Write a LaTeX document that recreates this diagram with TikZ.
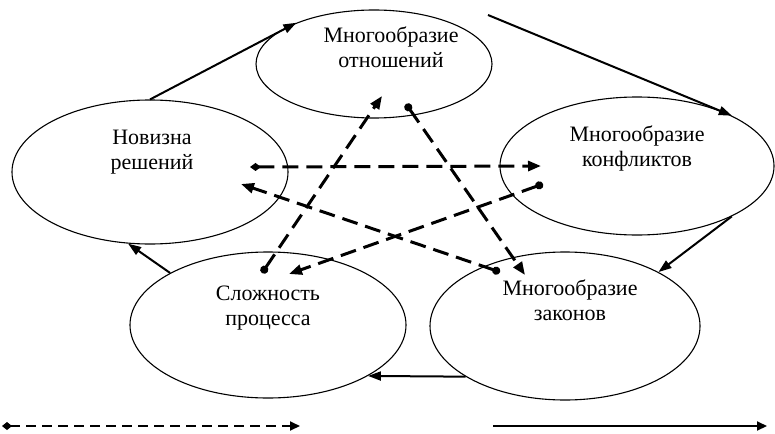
\documentclass[tikz,border=0pt]{standalone}
\usepackage{fontspec}
\setmainfont{Liberation Serif}
\usetikzlibrary{shapes.geometric,arrows.meta}
\begin{document}
\begin{tikzpicture}[x=1pt,y=-1pt,
  oval/.style 2 args={draw,ellipse,line width=1.1pt,minimum width=#1,minimum height=#2,inner sep=0pt},
  lbl/.style={align=center,font=\fontsize{22}{25}\selectfont,inner sep=0pt},
  solidarr/.style={line width=2pt,-{Triangle[length=13pt,width=9pt]}},
  dasharr/.style={line width=3pt,dash pattern=on 16pt off 8pt,
    {Circle[length=8pt]}-{Triangle[length=13pt,width=10pt]}},
  dashdia/.style={line width=3pt,dash pattern=on 16pt off 8pt,
    {Diamond[length=11pt,width=8pt]}-{Triangle[length=13pt,width=10pt]}},
  legdash/.style={line width=2pt,dash pattern=on 10pt off 6pt,
    {Diamond[length=10pt,width=8pt]}-{Triangle[length=10pt,width=9pt]}},
  legsolid/.style={line width=2pt,-{Triangle[length=10pt,width=9pt]}}]
\useasboundingbox (0,0) rectangle (775,433);
% ellipses
\node[oval={236pt}{108pt}] (top) at (374,64) {};
\node[oval={276pt}{144pt}] (lft) at (150,172) {};
\node[oval={274pt}{138pt}] (rgt) at (637,166) {};
\node[oval={276pt}{146pt}] (bl) at (268,325) {};
\node[oval={270pt}{148pt}] (br) at (565,326) {};
% labels
\node[lbl] (ttop) at (391,47) {Многообразие\\отношений};
\node[lbl] (tlft) at (152,152) {Новизна\\решений};
\node[lbl] (trgt) at (637,148) {Многообразие\\конфликтов};
\node[lbl] (tbl) at (268,308) {Сложность\\процесса};
\node[lbl] (tbr) at (570,300) {Многообразие\\законов};
% solid cycle
\coordinate (s2) at (488,15);
\draw[solidarr] (lft.90) -- (top.152);
\draw[solidarr] (s2) -- (rgt.28);
\draw[solidarr] (rgt.-28) -- (br.30);
\draw[solidarr] (br.207) -- (bl.-27.5);
\draw[solidarr] (bl.152) -- (lft.253.6);
% dashed star
\coordinate (da1) at (250,167); \coordinate (da2) at (541,166);
\coordinate (db1) at (543,184); \coordinate (db2) at (289,274);
\coordinate (dc1) at (262,273); \coordinate (dc2) at (382,96);
\coordinate (dd1) at (406,104); \coordinate (dd2) at (525,275);
\coordinate (de1) at (500,272); \coordinate (de2) at (241,184);
\draw[dashdia] (da1) -- (da2);
\draw[dasharr] (db1) -- (db2);
\draw[dasharr] (dc1) -- (dc2);
\draw[dasharr] (dd1) -- (dd2);
\draw[dasharr] (de1) -- (de2);
% legend
\coordinate (l1a) at (2,426); \coordinate (l1b) at (300,426);
\coordinate (l2a) at (493,426); \coordinate (l2b) at (767,426);
\draw[legdash] (l1a) -- (l1b);
\draw[legsolid] (l2a) -- (l2b);
\end{tikzpicture}
\end{document}
